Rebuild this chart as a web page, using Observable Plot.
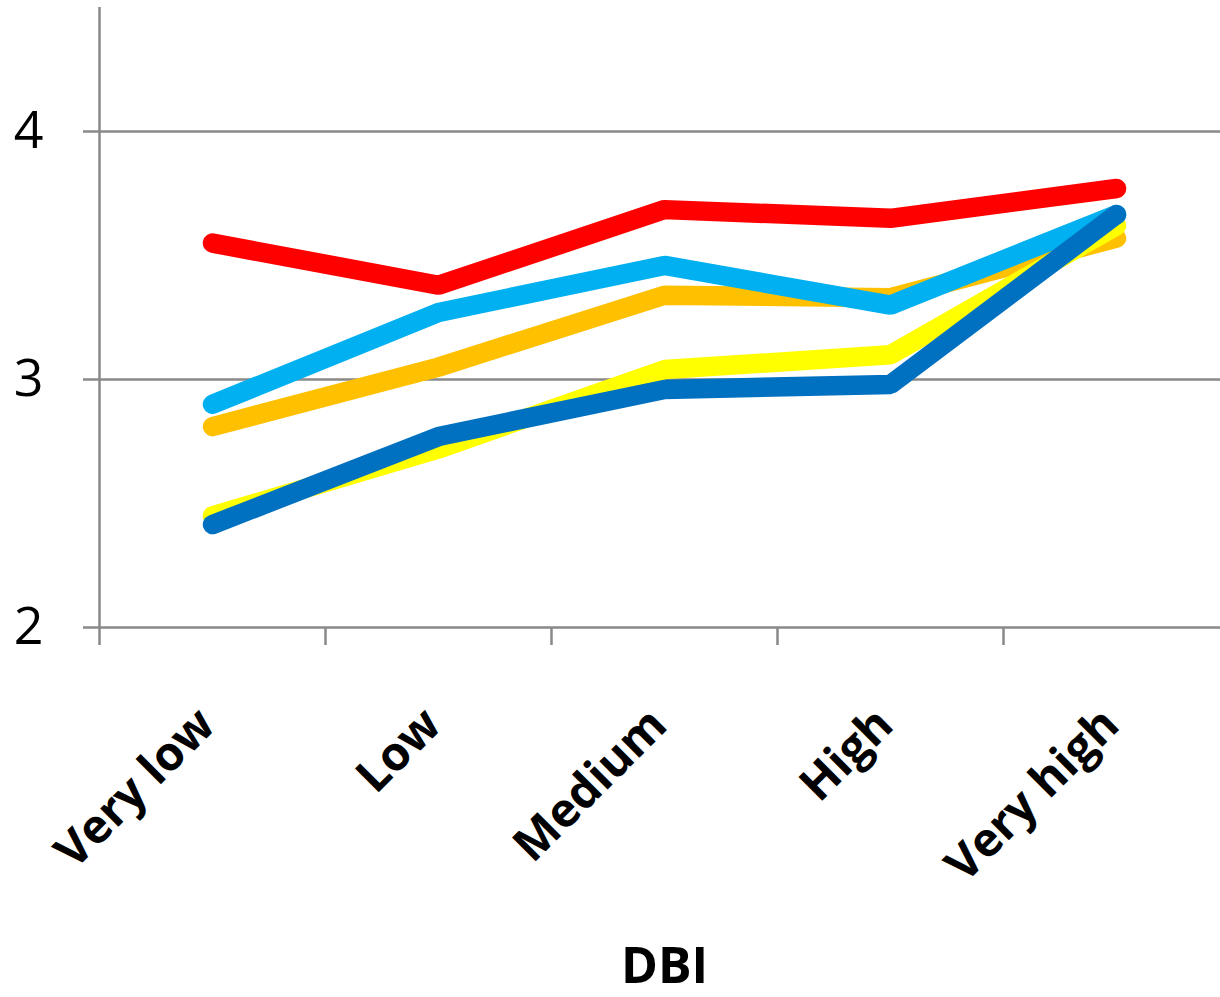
<!DOCTYPE html>
<html>
<head>
<meta charset="utf-8">
<script src="https://cdn.jsdelivr.net/npm/d3@7"></script>
<script src="https://cdn.jsdelivr.net/npm/@observablehq/plot@0.6"></script>
<style>
  html, body { margin: 0; padding: 0; background: #ffffff; }
  #chart svg { display: block; }
</style>
</head>
<body>
<div id="chart"></div>
<script>
const categories = ["Very low", "Low", "Medium", "High", "Very high"];
const yTicks = [2, 3, 4];
const axisTitle = "DBI";

// series values
const redSeries       = [3.55, 3.38, 3.685, 3.65, 3.77];
const lightBlueSeries = [2.90, 3.27, 3.46, 3.30, 3.665];
const orangeSeries    = [2.81, 3.05, 3.34, 3.33, 3.57];
const yellowSeries    = [2.45, 2.72, 3.04, 3.10, 3.62];
const darkBlueSeries  = [2.415, 2.77, 2.96, 2.98, 3.665];

// drawing order (bottom to top) and colours
const seriesList = [
  {name: "orange", values: orangeSeries, color: "#FFC000"},
  {name: "yellow", values: yellowSeries, color: "#FFFF00"},
  {name: "lightBlue", values: lightBlueSeries, color: "#00B0F0"},
  {name: "darkBlue", values: darkBlueSeries, color: "#0070C0"},
  {name: "red", values: redSeries, color: "#FF0000"}
];

const gray = "#898989";
const boundaries = categories.slice(0, -1).map((c, i) => i - 0.5).concat([categories.length - 1.5]);

const lineMarks = seriesList.map(s =>
  Plot.line(s.values.map((v, i) => ({i, v})), {
    x: "i", y: "v", stroke: s.color, strokeWidth: 19.5,
    strokeLinecap: "round", strokeLinejoin: "miter"
  })
);

const chart = Plot.plot({
  width: 1220,
  height: 997,
  marginLeft: 99,
  marginRight: -9,
  marginTop: 7,
  marginBottom: 370,
  style: {fontFamily: "'Open Sans', sans-serif", background: "#ffffff", color: "#000"},
  x: {domain: [-0.5, categories.length - 0.5], axis: null},
  y: {domain: [2, 4.5], axis: null},
  marks: [
    Plot.ruleY(yTicks, {stroke: gray, strokeWidth: 2.5}),
    Plot.ruleX([-0.5], {stroke: gray, strokeWidth: 2.5}),
    Plot.axisY({ticks: yTicks, tickSize: 16, tickPadding: 40, fontSize: 52, stroke: gray, strokeWidth: 2.5, fill: "#000", tickFormat: d => String(d), label: null}),
    Plot.axisX({ticks: boundaries, tickSize: 18, stroke: gray, strokeWidth: 2.5, tickFormat: () => "", label: null}),
    ...lineMarks,
    Plot.text(categories, {
      x: (d, i) => i, frameAnchor: "bottom", dy: 100, dx: 5,
      rotate: -45, textAnchor: "end", lineAnchor: "bottom",
      fontSize: 47, fontWeight: "bold", fill: "#000"
    }),
    Plot.text([axisTitle], {
      frameAnchor: "bottom", dy: 355, lineAnchor: "bottom",
      fontSize: 50, fontWeight: "bold", fill: "#000"
    })
  ]
});
document.getElementById("chart").appendChild(chart);
</script>
</body>
</html>
